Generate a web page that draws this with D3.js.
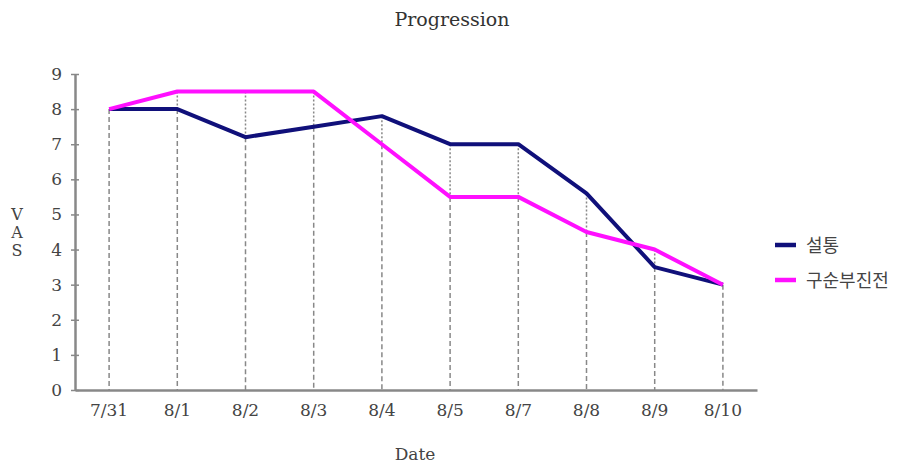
<!DOCTYPE html>
<html lang="ko">
<head>
<meta charset="utf-8">
<title>Progression</title>
<script src="https://d3js.org/d3.v7.min.js"></script>
<style>
  body { margin: 0; background: #fff; }
  text { font-family: "DejaVu Serif", "Liberation Serif", serif; fill: #444; }
  .kr { font-family: "Noto Sans CJK KR", sans-serif; }
</style>
</head>
<body>
<div id="chart"></div>
<script>
// data
var dates = ["7/31", "8/1", "8/2", "8/3", "8/4", "8/5", "8/7", "8/8", "8/9", "8/10"];
var seriesNames = ["설통", "구순부진전"];
var seolTong = [8, 8, 7.2, 7.5, 7.8, 7, 7, 5.6, 3.5, 3];
var gusun = [8, 8.5, 8.5, 8.5, 7, 5.5, 5.5, 4.5, 4, 3];
var yTicks = [0, 1, 2, 3, 4, 5, 6, 7, 8, 9];
var colors = ["#10107a", "#ff10ff"];

var width = 902, height = 466;
var margin = {top: 74, left: 75, bottom: 76, right: 145};

var svg = d3.select("#chart").append("svg")
    .attr("width", width)
    .attr("height", height);

var x = d3.scaleBand()
    .domain(dates)
    .range([margin.left, width - margin.right]);

var y = d3.scaleLinear()
    .domain([0, 9])
    .range([height - margin.bottom, margin.top]);

function cx(d) { return x(d) + x.bandwidth() / 2; }

// title
svg.append("text")
    .attr("x", 452).attr("y", 26)
    .attr("text-anchor", "middle")
    .style("font-size", "19px")
    .style("fill", "#333")
    .text("Progression");

// drop lines
var series = [seolTong, gusun];
dates.forEach(function(d, i) {
  var hi = Math.max(seolTong[i], gusun[i]);
  var lo = Math.min(seolTong[i], gusun[i]);
  if (hi > lo) {
    svg.append("line")
      .attr("x1", cx(d)).attr("x2", cx(d))
      .attr("y1", y(hi)).attr("y2", y(lo))
      .attr("stroke", "#888")
      .attr("stroke-width", 1.5)
      .attr("stroke-dasharray", "2,2");
  }
  svg.append("line")
    .attr("x1", cx(d)).attr("x2", cx(d))
    .attr("y1", y(lo)).attr("y2", y(0))
    .attr("stroke", "#888")
    .attr("stroke-width", 1.5)
    .attr("stroke-dasharray", "5,3");
});

// y axis
var yAxis = svg.append("g")
    .attr("transform", "translate(" + margin.left + ",0)")
    .call(d3.axisLeft(y).tickValues(yTicks).tickSize(0).tickPadding(13));
yAxis.select(".domain").attr("stroke", "#888").attr("stroke-width", 2.5);
yAxis.selectAll(".tick text").style("font-size", "17px").style("font-family", "DejaVu Serif, serif").attr("fill", "#444");
yAxis.selectAll(".tick").append("line")
    .attr("x1", -4).attr("x2", 4)
    .attr("stroke", "#888").attr("stroke-width", 1.5);

// x axis
var xAxis = svg.append("g")
    .attr("transform", "translate(0," + y(0) + ")")
    .call(d3.axisBottom(x).tickSize(0).tickPadding(14).tickSizeOuter(0));
xAxis.select(".domain").attr("stroke", "#888").attr("stroke-width", 2.5);
xAxis.selectAll(".tick text").style("font-size", "17px").style("font-family", "DejaVu Serif, serif").attr("fill", "#444");

// lines
var line = d3.line()
    .x(function(d, i) { return cx(dates[i]); })
    .y(function(d) { return y(d); });

series.forEach(function(s, k) {
  svg.append("path")
    .datum(s)
    .attr("fill", "none")
    .attr("stroke", colors[k])
    .attr("stroke-width", 4)
    .attr("stroke-linejoin", "round")
    .attr("d", line);
});

// axis titles
["V", "A", "S"].forEach(function(c, i) {
  svg.append("text")
    .attr("x", 17).attr("y", 220 + i * 18)
    .attr("text-anchor", "middle")
    .style("font-size", "16px")
    .text(c);
});
svg.append("text")
    .attr("x", 415).attr("y", 460)
    .attr("text-anchor", "middle")
    .style("font-size", "17px")
    .text("Date");

// legend
seriesNames.forEach(function(n, k) {
  var ly = 245 + k * 35;
  svg.append("line")
    .attr("x1", 775).attr("x2", 796)
    .attr("y1", ly).attr("y2", ly)
    .attr("stroke", colors[k]).attr("stroke-width", 4.5);
  svg.append("text")
    .attr("class", "kr")
    .attr("x", 806).attr("y", ly + 7)
    .style("font-size", "18px")
    .text(n);
});
</script>
</body>
</html>
